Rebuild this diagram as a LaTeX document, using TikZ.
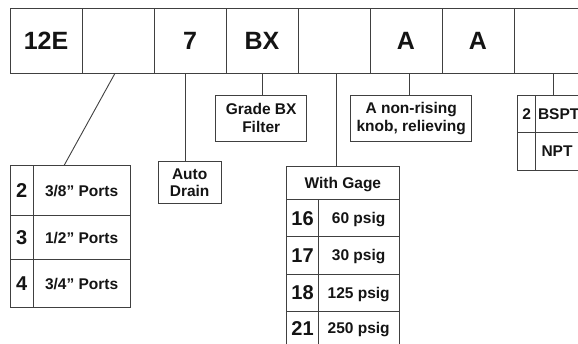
\documentclass[tikz,border=0pt]{standalone}
\usepackage{fontspec}
\setmainfont{Liberation Sans}
\begin{document}
\begin{tikzpicture}[x=1pt,y=-1pt,
  every node/.style={inner sep=0pt, outer sep=0pt, text=black!92},
  box/.style={draw=black!75, line width=0.9pt},
  cell/.style={box, minimum width=72pt, minimum height=65pt,
     font=\fontsize{25}{30}\selectfont\bfseries, text height=18pt, text depth=0pt},
  numc/.style={box, font=\fontsize{20}{24}\selectfont\bfseries, text height=14.4pt, text depth=0pt},
  txtc/.style={box, font=\fontsize{15.5}{18.4}\selectfont\bfseries, text height=11.1pt, text depth=0pt},
  note/.style={box, font=\fontsize{15.5}{18.4}\selectfont\bfseries, align=center},
  conn/.style={draw=black!75, line width=0.9pt}]
\path[use as bounding box] (0,0) rectangle (578,343);
\clip (0,0) rectangle (578,343);
% top row
\node[cell] (c1) at (46,40.8) {12E\hspace{11pt}};
\node[cell] (c2) at (118,40.8) {};
\node[cell] (c3) at (190,40.8) {7};
\node[cell] (c4) at (262,40.8) {BX};
\node[cell] (c5) at (334,40.8) {};
\node[cell] (c6) at (406,40.8) {A};
\node[cell] (c7) at (478,40.8) {A};
\node[cell] (c8) at (550.6,40.8) {};
% left table
\node[numc, minimum width=23.3pt, minimum height=50pt] (p2n) at (21.65,190.7) {2};
\node[txtc, minimum width=96.7pt, minimum height=50pt] (p2t) at (81.65,190.7) {3/8” Ports};
\node[numc, minimum width=23.3pt, minimum height=43.6pt] (p3n) at (21.65,237.5) {3};
\node[txtc, minimum width=96.7pt, minimum height=43.6pt] (p3t) at (81.65,237.5) {1/2” Ports};
\node[numc, minimum width=23.3pt, minimum height=48.4pt] (p4n) at (21.65,283.5) {4};
\node[txtc, minimum width=96.7pt, minimum height=48.4pt] (p4t) at (81.65,283.5) {3/4” Ports};
% auto drain
\node[note, minimum width=62.7pt, minimum height=42.3pt,
      font=\fontsize{15.5}{17}\selectfont\bfseries] (ad) at (189.65,182.4) {Auto\\Drain};
% grade BX
\node[note, minimum width=91pt, minimum height=46pt] (gbx) at (261.2,118) {Grade BX\\Filter};
% non-rising
\node[note, minimum width=121pt, minimum height=45.5pt] (anr) at (411.2,118.25) {A non-rising\\knob, relieving};
% gage table
\node[txtc, minimum width=112.3pt, minimum height=32.6pt] (gh) at (342.85,183) {With Gage};
\node[numc, minimum width=31.6pt, minimum height=37.2pt] (g16n) at (302.5,217.9) {16};
\node[txtc, minimum width=80.7pt, minimum height=37.2pt] (g16t) at (358.65,217.9) {60 psig};
\node[numc, minimum width=31.6pt, minimum height=37.5pt] (g17n) at (302.5,255.25) {17};
\node[txtc, minimum width=80.7pt, minimum height=37.5pt] (g17t) at (358.65,255.25) {30 psig};
\node[numc, minimum width=31.6pt, minimum height=37.5pt] (g18n) at (302.5,292.75) {18};
\node[txtc, minimum width=80.7pt, minimum height=37.5pt] (g18t) at (358.65,292.75) {125 psig};
\node[numc, minimum width=31.6pt, minimum height=33.5pt] (g21n) at (302.5,328.25) {21};
\node[txtc, minimum width=80.7pt, minimum height=33.5pt] (g21t) at (358.65,328.25) {250 psig};
% thread table
\node[txtc, minimum width=17.8pt, minimum height=36.5pt] (t2n) at (526.6,113.75) {2};
\node[txtc, minimum height=36.5pt, text width=62pt, inner xsep=1pt, align=left] (t2t) at (567.5,113.75) {\hspace{1.5pt}BSPT};
\node[txtc, minimum width=17.8pt, minimum height=38pt] (tnn) at (526.6,151) {};
\node[txtc, minimum height=38pt, text width=62pt, inner xsep=1pt, align=left] (tnt) at (567.5,151) {\hspace{5pt}NPT};
% connectors
\draw[conn] ([xshift=-3pt]c2.south) -- ([xshift=-17.7pt]p2t.north);
\draw[conn] ([xshift=-5pt]c3.south) -- ([xshift=-5pt]c3.south |- ad.north);
\draw[conn] ([xshift=0.3pt]c4.south) -- ([xshift=0.3pt]c4.south |- gbx.north);
\draw[conn] ([xshift=2pt]c5.south) -- ([xshift=2pt]c5.south |- gh.north);
\draw[conn] ([xshift=3pt]c6.south) -- ([xshift=3pt]c6.south |- anr.north);
\draw[conn] ([xshift=2.7pt]c8.south) -- ([xshift=2.7pt]c8.south |- t2t.north);
\end{tikzpicture}
\end{document}
